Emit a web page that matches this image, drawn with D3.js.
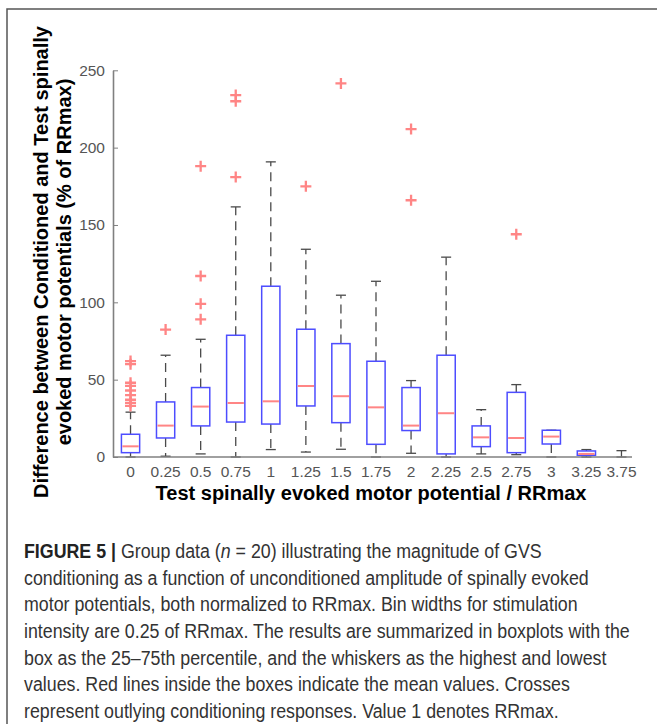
<!DOCTYPE html>
<html>
<head>
<meta charset="utf-8">
<script src="https://cdn.jsdelivr.net/npm/d3@7"></script>
<style>
  body { margin: 0; background: #fff; }
  svg { display: block; }
</style>
</head>
<body>
<div id="chart"></div>
<script>
// Data (% of RRmax)
const categories = ["0", "0.25", "0.5", "0.75", "1", "1.25", "1.5", "1.75", "2", "2.25", "2.5", "2.75", "3", "3.25", "3.75"];
const whiskerLow = [0, 0.5, 2, 0, 4.8, 3.2, 5, 0, 2.4, 0, 2, 1.5, 0, 0, 0];
const q1 = [2.8, 12.3, 20.1, 22.6, 21.3, 33, 22.2, 8.2, 17.1, 2, 6.7, 2.8, 8.4, 1.1, 0];
const means = [6.9, 20.3, 32.6, 34.9, 36, 45.9, 39.3, 32.1, 20.3, 28.3, 12.7, 12.3, 13.2, 2, 0];
const q3 = [14.7, 35.6, 44.9, 78.7, 110.4, 82.6, 73.3, 61.9, 44.9, 65.8, 20.1, 41.8, 17.3, 3.9, 0];
const whiskerHigh = [29, 65.8, 76.1, 161.7, 190.8, 134.3, 104.6, 113.6, 49.4, 129.2, 30.6, 46.8, 17.3, 4.8, 4.1];
const outliers = [
    [62, 60, 48, 46, 43, 40, 37, 35, 33],
    [82.4],
    [188, 117, 99, 89],
    [234, 230, 181],
    [],
    [175],
    [241.5],
    [],
    [212, 166],
    [],
    [],
    [144],
    [],
    [],
    []
];
const yTicks = [0, 50, 100, 150, 200, 250];

const xTitle = "Test spinally evoked motor potential / RRmax";
const yTitle = ["Difference between Conditioned and Test spinally", "evoked motor potentials (% of RRmax)"];
const captionLines = [
    [["FIGURE 5 | ", "b"], ["Group data (", ""], ["n", "i"], [" = 20) illustrating the magnitude of GVS", ""]],
    [["conditioning as a function of unconditioned amplitude of spinally evoked", ""]],
    [["motor potentials, both normalized to RRmax. Bin widths for stimulation", ""]],
    [["intensity are 0.25 of RRmax. The results are summarized in boxplots with the", ""]],
    [["box as the 25\u201375th percentile, and the whiskers as the highest and lowest", ""]],
    [["values. Red lines inside the boxes indicate the mean values. Crosses", ""]],
    [["represent outlying conditioning responses. Value 1 denotes RRmax.", ""]]
];

const W = 657, H = 724;
const blue = "#4d4dff", red = "#ff8585", grey = "#4a4a4a";
const font = "'Liberation Sans', Arial, sans-serif";

const data = categories.map((c, i) => ({
    cat: c, lo: whiskerLow[i], q1: q1[i], mean: means[i], q3: q3[i], hi: whiskerHigh[i], out: outliers[i]
}));

const svg = d3.select("#chart").append("svg")
    .attr("width", W)
    .attr("height", H);

// figure frame (top and left edges)
svg.append("path")
    .attr("d", `M7,${H}V9H${W}`)
    .attr("fill", "none")
    .attr("stroke", "#555")
    .attr("stroke-width", 1.5);

const x = d3.scaleBand()
    .domain(categories)
    .range([113, 639]);

const y = d3.scaleLinear()
    .domain([0, 250])
    .range([457, 70.3]);

const cx = d => x(d.cat) + x.bandwidth() / 2;
const boxW = x.bandwidth() * 0.52;
const capW = boxW * 0.55;

const g = svg.append("g");

// whiskers (dashed)
g.selectAll(".whisk-hi")
    .data(data)
    .enter().append("line")
    .attr("x1", cx).attr("x2", cx)
    .attr("y1", d => y(d.q3)).attr("y2", d => y(d.hi))
    .attr("stroke", grey).attr("stroke-width", 1.3)
    .attr("stroke-dasharray", "9,6");

g.selectAll(".whisk-lo")
    .data(data)
    .enter().append("line")
    .attr("x1", cx).attr("x2", cx)
    .attr("y1", d => y(d.q1)).attr("y2", d => y(d.lo))
    .attr("stroke", grey).attr("stroke-width", 1.3)
    .attr("stroke-dasharray", "9,6");

// caps
["hi", "lo"].forEach(k => {
    g.selectAll(".cap-" + k)
        .data(data)
        .enter().append("line")
        .attr("x1", d => cx(d) - capW / 2).attr("x2", d => cx(d) + capW / 2)
        .attr("y1", d => y(d[k])).attr("y2", d => y(d[k]))
        .attr("stroke", grey).attr("stroke-width", 1.3);
});

// boxes (a group with all values at zero has no visible box)
const boxed = data.filter(d => d.q3 > d.q1);

g.selectAll(".box")
    .data(boxed)
    .enter().append("rect")
    .attr("x", d => cx(d) - boxW / 2)
    .attr("width", boxW)
    .attr("y", d => y(d.q3))
    .attr("height", d => y(d.q1) - y(d.q3))
    .attr("fill", "none")
    .attr("stroke", blue)
    .attr("stroke-width", 1.5);

// mean lines
g.selectAll(".mean")
    .data(boxed)
    .enter().append("line")
    .attr("x1", d => cx(d) - boxW / 2 + 1).attr("x2", d => cx(d) + boxW / 2 - 1)
    .attr("y1", d => y(d.mean)).attr("y2", d => y(d.mean))
    .attr("stroke", red).attr("stroke-width", 2);

// outliers as crosses
const pts = data.flatMap(d => d.out.map(v => ({ cat: d.cat, v: v })));
const plus = 5.5;
g.selectAll(".outlier")
    .data(pts)
    .enter().append("path")
    .attr("d", d => {
        const px = cx(d), py = y(d.v);
        return `M${px - plus},${py}H${px + plus}M${px},${py - plus}V${py + plus}`;
    })
    .attr("stroke", red)
    .attr("stroke-width", 2.3)
    .attr("fill", "none");

// axes
const yAxis = d3.axisLeft(y)
    .tickValues(yTicks)
    .tickSizeInner(-5)
    .tickSizeOuter(0)
    .tickPadding(8);

const ya = svg.append("g")
    .attr("transform", "translate(113,0)")
    .call(yAxis);

const xAxis = d3.axisBottom(x)
    .tickSize(0)
    .tickPadding(9);

const xa = svg.append("g")
    .attr("transform", "translate(0,457)")
    .call(xAxis);

// the bottom axis line stops just past the last group
xa.select(".domain").attr("d", "M113,0H632");

[ya, xa].forEach(a => {
    a.select(".domain").attr("stroke", "#808080").attr("stroke-width", 1.6);
    a.selectAll(".tick line").attr("stroke", "#808080");
    a.selectAll(".tick text")
        .attr("fill", "#555")
        .style("font-family", font)
        .style("font-size", "15.5px");
});

// axis titles
svg.append("text")
    .attr("x", 371)
    .attr("y", 500)
    .attr("text-anchor", "middle")
    .style("font-family", font)
    .style("font-size", "20px")
    .style("font-weight", "bold")
    .text(xTitle);

yTitle.forEach((t, i) => {
    svg.append("text")
        .attr("transform", `translate(${48 + i * 23},262) rotate(-90)`)
        .attr("text-anchor", "middle")
        .style("font-family", font)
        .style("font-size", "20px")
        .style("font-weight", "bold")
        .text(t);
});

// caption
const cap = svg.append("g")
    .style("font-family", font)
    .style("font-size", "20px")
    .attr("fill", "#333");

const capTexts = captionLines.map((line, i) => {
    const t = cap.append("text")
        .attr("x", 0)
        .attr("y", 558 + i * 26.7);
    line.forEach(([s, f]) => {
        t.append("tspan")
            .text(s)
            .style("font-weight", f === "b" ? "bold" : null)
            .style("font-style", f === "i" ? "italic" : null)
            .attr("fill", f === "b" ? "#222" : null);
    });
    return t;
});

// condense caption horizontally so the longest line matches the figure width
const longest = d3.max(capTexts, t => t.node().getComputedTextLength());
const sx = 606 / longest;
cap.attr("transform", `translate(24,0) scale(${sx},1)`);
</script>
</body>
</html>
